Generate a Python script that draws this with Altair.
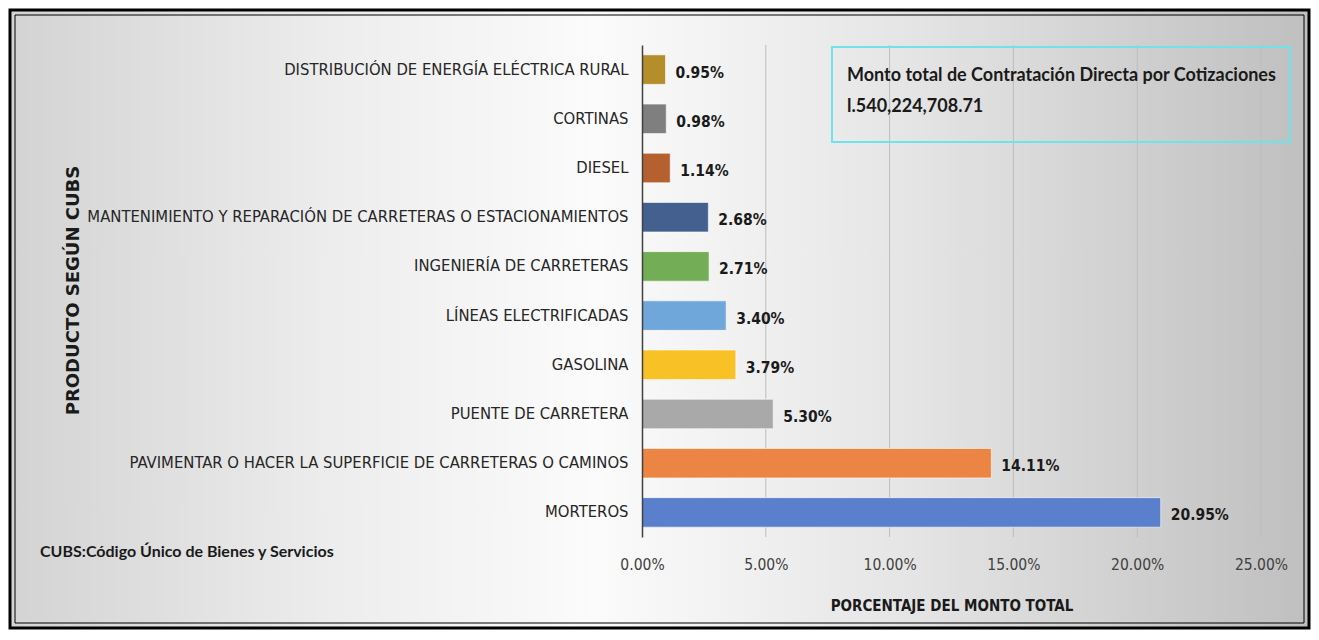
import altair as alt

# ---------------- data ----------------
categories = [
    "DISTRIBUCIÓN DE ENERGÍA ELÉCTRICA RURAL",
    "CORTINAS",
    "DIESEL",
    "MANTENIMIENTO Y REPARACIÓN DE CARRETERAS O ESTACIONAMIENTOS",
    "INGENIERÍA DE CARRETERAS",
    "LÍNEAS ELECTRIFICADAS",
    "GASOLINA",
    "PUENTE DE CARRETERA",
    "PAVIMENTAR O HACER LA SUPERFICIE DE CARRETERAS O CAMINOS",
    "MORTEROS",
]
percentages = [0.95, 0.98, 1.14, 2.68, 2.71, 3.40, 3.79, 5.30, 14.11, 20.95]
bar_colors = ["#b58e2c", "#7f7f7f", "#b4602f", "#43608f", "#73ad55",
              "#70a7da", "#f8c125", "#a9a9a9", "#ec8444", "#5a7fcc"]
x_ticks = [0, 5, 10, 15, 20, 25]
grid_values = [5, 10, 15, 20, 25]

y_title = "PRODUCTO SEGÚN CUBS"
x_title = "PORCENTAJE DEL MONTO TOTAL"
note_text = "CUBS:Código Único de Bienes y Servicios"
box_lines = ["Monto total de Contratación Directa por Cotizaciones",
             "l.540,224,708.71"]

# ---------------- layout / style ----------------
W, H = 619, 492
L, R, T, B = -632, 667, -35, 583
NARROW = "DejaVu Sans Condensed, sans-serif"
BOLDF = "Lato, Open Sans, sans-serif"

rows = [{"cat": c, "pct": p} for c, p in zip(categories, percentages)]
one = alt.Data(values=[{}])

x_axis = alt.Axis(
    values=x_ticks, labelExpr="format(datum.value, '.2f') + '%'",
    grid=False, domain=False, ticks=False, labelFlush=False,
    labelFont=NARROW, labelFontSize=15.5, labelColor="#404040", labelPadding=20,
    title=x_title, titleFont=NARROW, titleFontSize=15, titleFontWeight="bold",
    titleColor="#1a1a1a", titleY=68, titleBaseline="middle", zindex=1,
)
x_scale = alt.Scale(domain=[0, 25], nice=False)

bg = alt.Chart(one).mark_rect(
    fill={"gradient": "linear", "x1": 0, "y1": 0, "x2": 1, "y2": 0,
          "stops": [{"offset": 0, "color": "#d3d3d3"},
                    {"offset": 0.25, "color": "#ededed"},
                    {"offset": 0.45, "color": "#fbfbfb"},
                    {"offset": 0.7, "color": "#e4e4e4"},
                    {"offset": 1, "color": "#bfbfbf"}]},
    stroke="#000000", strokeWidth=3,
).encode(x=alt.value(L), x2=alt.value(R), y=alt.value(T), y2=alt.value(B))

inner = alt.Chart(one).mark_rect(
    fill="transparent", stroke="#000000", strokeWidth=1,
).encode(x=alt.value(L + 5), x2=alt.value(R - 5),
         y=alt.value(T + 5), y2=alt.value(B - 5))

grid = alt.Chart(alt.Data(values=[{"pct": v} for v in grid_values])).mark_rule(
    color="#bdbdbd", strokeWidth=1,
).encode(x=alt.X("pct:Q", scale=x_scale, axis=x_axis),
         y=alt.value(0), y2=alt.value(H))

base = alt.Chart(alt.Data(values=rows))

y_enc = alt.Y(
    "cat:N", sort=categories,
    scale=alt.Scale(paddingInner=0.4, paddingOuter=0.2),
    axis=alt.Axis(
        ticks=False, domain=True, domainColor="#404040", domainWidth=1.5,
        labelFont=NARROW, labelFontSize=16.5, labelColor="#262626",
        labelPadding=14, labelLimit=800,
        title=y_title, titleFont="DejaVu Sans, sans-serif", titleFontSize=18,
        titleFontWeight="bold", titleColor="#1a1a1a",
        titleX=-569, titleY=245, titleAngle=270, titleAlign="center",
        titleBaseline="middle", zindex=1,
    ),
)

bars = base.mark_bar(stroke="#ffffff", strokeOpacity=0.6, strokeWidth=1).encode(
    x=alt.X("pct:Q", scale=x_scale, axis=x_axis),
    y=y_enc,
    color=alt.Color("cat:N", scale=alt.Scale(domain=categories, range=bar_colors),
                    legend=None),
)

labels = base.transform_calculate(
    lab="format(datum.pct, '.2f') + '%'"
).mark_text(
    align="left", baseline="middle", dx=10, dy=3,
    font=NARROW, fontSize=15.5, fontWeight="bold", color="#1a1a1a",
).encode(x=alt.X("pct:Q", scale=x_scale, axis=x_axis), y=y_enc, text="lab:N")

box = alt.Chart(one).mark_rect(
    fill="transparent", stroke="#6ee3ec", strokeWidth=2,
).encode(x=alt.value(190), x2=alt.value(648), y=alt.value(2), y2=alt.value(97))

box_t1 = alt.Chart(one).mark_text(
    text=box_lines[0], align="left", baseline="middle",
    font=BOLDF, fontSize=18, fontWeight="bold", color="#1a1a1a",
).encode(x=alt.value(205), y=alt.value(31))

box_t2 = alt.Chart(one).mark_text(
    text=box_lines[1], align="left", baseline="middle",
    font=BOLDF, fontSize=18, fontWeight="bold", color="#1a1a1a",
).encode(x=alt.value(205), y=alt.value(62))

note = alt.Chart(one).mark_text(
    text=note_text, align="left", baseline="middle",
    font=BOLDF, fontSize=16, fontWeight="bold", color="#1a1a1a",
).encode(x=alt.value(-602), y=alt.value(507))

chart = alt.layer(bg, inner, grid, bars, labels, box, box_t1, box_t2, note).properties(
    width=W, height=H, padding=0,
).configure_view(stroke=None).configure(background="#ffffff")

chart.save("out.html", embed_options={"renderer": "svg", "actions": False})
